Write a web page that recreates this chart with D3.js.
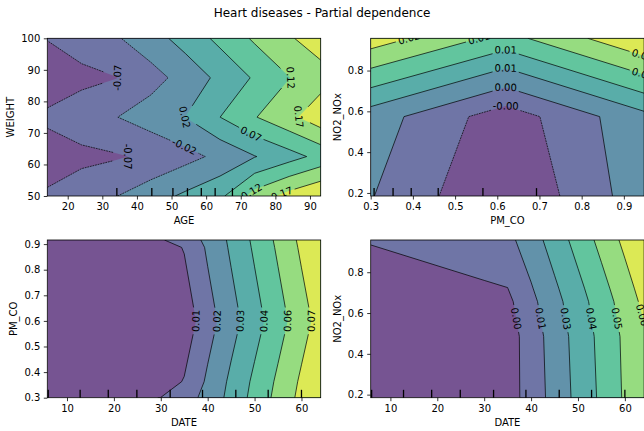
<!DOCTYPE html>
<html>
<head>
<meta charset="utf-8">
<script src="https://cdn.jsdelivr.net/npm/d3@7"></script>
<style>
  body { margin: 0; background: #fff; }
  text { font-family: "DejaVu Sans", sans-serif; fill: #000; }
</style>
</head>
<body>
<div id="chart"></div>
<script>
// ---- partial dependence grids ----
// AGE x WEIGHT
const ageGrid = [14.1, 24, 34, 44, 54, 64, 74, 84, 93.1];
const weightGrid = [50, 62.5, 75, 87.5, 100];
const pdAgeWeight = [
  [-0.067, -0.0465, -0.0257, 0.0027, 0.0315, 0.0598, 0.1376, 0.1827, 0.214],
  [-0.09, -0.0832, -0.0764, -0.0635, -0.040, -0.013, 0.021, 0.0524, 0.085],
  [-0.065, -0.0454, -0.0257, -0.0014, 0.0235, 0.0703, 0.1153, 0.1537, 0.195],
  [-0.095, -0.0842, -0.0732, -0.0426, -0.0064, 0.0343, 0.0758, 0.1168, 0.1456],
  [-0.0705, -0.050, -0.0293, 0.0034, 0.0414, 0.0824, 0.1248, 0.1605, 0.19]
];
const levelsAgeWeight = [-0.1195, -0.072, -0.0245, 0.023, 0.0705, 0.118, 0.1655, 0.213];
const decilesAge = [34.2, 44.3, 50.4, 54.6, 58.6, 62.6, 67.6];

// PM_CO x NO2_NOx
const pmcoGrid = [0.3, 0.62, 0.948];
const no2Grid = [0.185, 0.574, 0.958];
const pdPmcoNo2 = [
  [0.0022, -0.0051, 0.0041],
  [0.0038, -0.0035, 0.0046],
  [0.0179, 0.0112, 0.0193]
];
const levelsPmcoNo2 = [-0.005, -0.0015, 0.002, 0.0056, 0.009, 0.0125, 0.016, 0.0195];
const decilesPmco = [0.308, 0.353, 0.396, 0.46, 0.566, 0.693];

// DATE x PM_CO
const dateGrid = [5.8, 30, 35, 40, 45, 50, 55, 60, 64.1];
const pmcoRows = [0.3, 0.3625, 0.6, 0.887, 0.916];
const pdDatePmco = [
  [0.002, 0.0057, 0.0131, 0.0217, 0.0346, 0.0470, 0.0593, 0.0716, 0.0818],
  [0.0, 0.0, 0.0063, 0.0202, 0.0331, 0.0456, 0.0578, 0.0701, 0.080],
  [-0.002, -0.002, -0.0017, 0.0129, 0.0258, 0.0381, 0.0505, 0.0629, 0.073],
  [0.0, 0.0, 0.0063, 0.0199, 0.0324, 0.0449, 0.0574, 0.0701, 0.080],
  [0.002, 0.0044, 0.0120, 0.0206, 0.0331, 0.0456, 0.0582, 0.0709, 0.081]
];
const levelsDatePmco = [-0.0069, 0.0056, 0.0181, 0.0306, 0.0431, 0.0556, 0.0681, 0.0806];
const decilesDate = [6, 12.8, 18.8, 24.9, 32, 38.9, 46, 52.9, 60];

// DATE x NO2_NOx
const no2Rows = [0.185, 0.485, 0.656, 0.722, 0.958];
const pdDateNo2 = [
  [-0.005, -0.004, -0.0035, 0.0071, 0.0178, 0.0286, 0.0393, 0.0503, 0.0596],
  [-0.005, -0.004, -0.0037, 0.0077, 0.0189, 0.0297, 0.0404, 0.051, 0.0585],
  [-0.004, -0.001, -0.0007, 0.0107, 0.0216, 0.0322, 0.0430, 0.0539, 0.0633],
  [-0.0024, 0.00075, 0.0019, 0.0128, 0.0235, 0.0341, 0.0449, 0.0559, 0.0653],
  [0.0025, 0.0085, 0.0105, 0.0200, 0.0306, 0.0414, 0.0522, 0.0633, 0.0726]
];
const levelsDateNo2 = [-0.0097, 0.002, 0.0137, 0.0254, 0.0371, 0.0488, 0.0605, 0.0722];

// contour label spots: [level index, x, y]
const spotsAgeWeight = [[1, 35.1, 88], [1, 40.4, 62.5], [2, 53.9, 66.2], [3, 53.4, 75.4], [4, 73.1, 69.9],
  [5, 85, 87.4], [5, 73.1, 51.4], [6, 86.6, 75.3], [6, 81.8, 50.9]];
const spotsPmcoNo2 = [[1, 0.62, 0.626], [2, 0.62, 0.718], [3, 0.62, 0.812], [4, 0.62, 0.902],
  [5, 0.558, 0.95], [5, 0.946, 0.79], [6, 0.40, 0.95], [6, 0.946, 0.885]];
const spotsDatePmco = [[1, 37.5, 0.6], [2, 41.8, 0.6], [3, 47, 0.6], [4, 52, 0.6], [5, 57.1, 0.6], [6, 62.1, 0.6]];
const spotsDateNo2 = [[1, 37.3, 0.575], [2, 42.5, 0.575], [3, 48.1, 0.575], [4, 53.5, 0.575], [5, 58.8, 0.575], [6, 63.6, 0.59]];

// ---- layout ----
const W = 644, H = 431, pw = 273.4, ph = 157.7;

const panels = [
  {left: 47.3, top: 38.3, xs: ageGrid, ys: weightGrid, z: pdAgeWeight, levels: levelsAgeWeight,
   deciles: decilesAge, xTicks: d3.range(20, 91, 10), yTicks: d3.range(50, 101, 10),
   fx: d3.format("d"), fy: d3.format("d"), xLabel: "AGE", yLabel: "WEIGHT", spots: spotsAgeWeight},
  {left: 370.7, top: 38.3, xs: pmcoGrid, ys: no2Grid, z: pdPmcoNo2, levels: levelsPmcoNo2,
   deciles: decilesPmco, xTicks: [0.3, 0.4, 0.5, 0.6, 0.7, 0.8, 0.9], yTicks: [0.2, 0.4, 0.6, 0.8],
   fx: d3.format(".1f"), fy: d3.format(".1f"), xLabel: "PM_CO", yLabel: "NO2_NOx", spots: spotsPmcoNo2},
  {left: 47.3, top: 240, xs: dateGrid, ys: pmcoRows, z: pdDatePmco, levels: levelsDatePmco,
   deciles: decilesDate, xTicks: d3.range(10, 61, 10), yTicks: [0.3, 0.4, 0.5, 0.6, 0.7, 0.8, 0.9],
   fx: d3.format("d"), fy: d3.format(".1f"), xLabel: "DATE", yLabel: "PM_CO", spots: spotsDatePmco},
  {left: 370.7, top: 240, xs: dateGrid, ys: no2Rows, z: pdDateNo2, levels: levelsDateNo2,
   deciles: decilesDate, xTicks: d3.range(10, 61, 10), yTicks: [0.2, 0.4, 0.6, 0.8],
   fx: d3.format("d"), fy: d3.format(".1f"), xLabel: "DATE", yLabel: "NO2_NOx", spots: spotsDateNo2}
];

const svg = d3.select("#chart").append("svg")
    .attr("width", W)
    .attr("height", H);

svg.append("text")
    .attr("x", W / 2)
    .attr("y", 17)
    .attr("text-anchor", "middle")
    .style("font-size", "12px")
    .text("Heart diseases - Partial dependence");

// viridis at 0.75 alpha over white
const bandColors = d3.range(7).map(i => {
  const c = d3.rgb(d3.interpolateViridis((i + 0.5) / 7));
  return d3.rgb(c.r * 0.75 + 63.75, c.g * 0.75 + 63.75, c.b * 0.75 + 63.75).formatHex();
});

function lengths(pts) {
  const s = [0];
  for (let i = 1; i < pts.length; i++) s.push(s[i - 1] + Math.hypot(pts[i][0] - pts[i - 1][0], pts[i][1] - pts[i - 1][1]));
  return s;
}
function pointAt(pts, S, s) {
  s = Math.max(0, Math.min(S[S.length - 1], s));
  let i = 1;
  while (i < S.length - 1 && S[i] < s) i++;
  const seg = S[i] - S[i - 1] || 1;
  const t = (s - S[i - 1]) / seg;
  return [pts[i - 1][0] + t * (pts[i][0] - pts[i - 1][0]), pts[i - 1][1] + t * (pts[i][1] - pts[i - 1][1])];
}

panels.forEach((p, k) => {
  const g = svg.append("g").attr("transform", `translate(${p.left},${p.top})`);
  const nx = p.xs.length, ny = p.ys.length;

  const x = d3.scaleLinear().domain([p.xs[0], p.xs[nx - 1]]).range([0, pw]);
  const y = d3.scaleLinear().domain([p.ys[0], p.ys[ny - 1]]).range([ph, 0]);
  // grid index -> data value (piecewise)
  const gx = d3.scaleLinear().domain(d3.range(nx)).range(p.xs).clamp(true);
  const gy = d3.scaleLinear().domain(d3.range(ny)).range(p.ys).clamp(true);
  const toPx = q => [x(gx(q[0] - 0.5)), y(gy(q[1] - 0.5))];

  const clipId = "clip" + k;
  g.append("clipPath").attr("id", clipId)
    .append("rect").attr("width", pw).attr("height", ph);
  const body = g.append("g").attr("clip-path", `url(#${clipId})`);

  const values = p.z.flat();
  const contours = d3.contours().size([nx, ny]);

  // filled bands
  body.append("rect").attr("width", pw).attr("height", ph).attr("fill", bandColors[0]);
  const lines = [];
  p.levels.slice(1, 7).forEach((lv, i) => {
    const c = contours.contour(values, lv);
    const d = c.coordinates.map(poly => poly.map(ring =>
      "M" + ring.map(toPx).map(q => q[0].toFixed(2) + "," + q[1].toFixed(2)).join("L") + "Z").join("")).join("");
    body.append("path")
        .attr("d", d)
        .attr("fill", bandColors[i + 1])
        .attr("fill-rule", "evenodd");

    // isolines: runs of ring points that are not on the padded border
    c.coordinates.forEach(poly => poly.forEach(ring => {
      const pts = ring.slice(0, -1);
      const iso = pts.map(q => q[0] > 0 && q[0] < nx && q[1] > 0 && q[1] < ny);
      const start = iso.indexOf(false);
      if (start < 0) {
        const r = pts.map(toPx); r.push(r[0]);
        lines.push({li: i + 1, level: lv, pts: r, cuts: []});
        return;
      }
      let run = [];
      for (let j = 1; j <= pts.length; j++) {
        const idx = (start + j) % pts.length;
        if (iso[idx]) run.push(toPx(pts[idx]));
        else {
          if (run.length > 1) lines.push({li: i + 1, level: lv, pts: run, cuts: []});
          run = [];
        }
      }
    }));
  });
  lines.forEach(l => l.S = lengths(l.pts));

  // inline labels
  const labG = body.append("g").attr("class", "clabels");
  p.spots.forEach(([li, ax, ay]) => {
    const P = [x(ax), y(ay)];
    let best = null;
    lines.filter(l => l.li === li).forEach(l => {
      for (let i = 0; i < l.pts.length - 1; i++) {
        const a = l.pts[i], b = l.pts[i + 1];
        const dx = b[0] - a[0], dy = b[1] - a[1], L2 = dx * dx + dy * dy;
        if (L2 === 0) continue;
        const t = Math.max(0, Math.min(1, ((P[0] - a[0]) * dx + (P[1] - a[1]) * dy) / L2));
        const dist = Math.hypot(a[0] + t * dx - P[0], a[1] + t * dy - P[1]);
        if (!best || dist < best.dist) best = {dist, line: l, s: l.S[i] + t * Math.sqrt(L2)};
      }
    });
    if (!best) return;
    const l = best.line;
    const txt = labG.append("text")
        .attr("text-anchor", "middle")
        .attr("dominant-baseline", "central")
        .style("font-size", "10px")
        .text(p.levels[li].toFixed(2));
    const w = txt.node().getComputedTextLength();
    const pa = pointAt(l.pts, l.S, best.s - w / 2), pb = pointAt(l.pts, l.S, best.s + w / 2);
    let ang = Math.atan2(pb[1] - pa[1], pb[0] - pa[0]) * 180 / Math.PI;
    if (ang > 90) ang -= 180;
    if (ang <= -90) ang += 180;
    const c = pointAt(l.pts, l.S, best.s);
    txt.attr("transform", `translate(${c[0]},${c[1]}) rotate(${ang})`);
    l.cuts.push([best.s - w / 2 - 2.5, best.s + w / 2 + 2.5]);
  });

  // contour lines with gaps for labels
  const lineG = body.insert("g", ".clabels");
  lines.forEach(l => {
    const total = l.S[l.S.length - 1];
    const cuts = l.cuts.sort((a, b) => a[0] - b[0]);
    const keep = [];
    let from = 0;
    cuts.forEach(([a, b]) => { if (a > from) keep.push([from, a]); from = Math.max(from, b); });
    if (from < total) keep.push([from, total]);
    keep.forEach(([a, b]) => {
      const seg = [pointAt(l.pts, l.S, a)];
      l.S.forEach((s, i) => { if (s > a && s < b) seg.push(l.pts[i]); });
      seg.push(pointAt(l.pts, l.S, b));
      lineG.append("path")
          .attr("d", d3.line()(seg))
          .attr("fill", "none")
          .attr("stroke", "#000")
          .attr("stroke-width", 0.7)
          .attr("stroke-dasharray", l.level < 0 ? "1.85,0.8" : null);
    });
  });

  // decile rug
  g.selectAll(".decile")
    .data(p.deciles)
    .join("line")
      .attr("class", "decile")
      .attr("x1", d => x(d)).attr("x2", d => x(d))
      .attr("y1", ph).attr("y2", ph - 0.05 * ph)
      .attr("stroke", "#000")
      .attr("stroke-width", 1.3);

  // axes
  const xAxisG = g.append("g")
      .attr("transform", `translate(0,${ph})`)
      .call(d3.axisBottom(x).tickValues(p.xTicks).tickFormat(p.fx).tickSize(3.5).tickPadding(3.5));
  const yAxisG = g.append("g")
      .call(d3.axisLeft(y).tickValues(p.yTicks).tickFormat(p.fy).tickSize(3.5).tickPadding(3.5));
  [xAxisG, yAxisG].forEach(a => {
    a.select(".domain").remove();
    a.attr("font-family", null).attr("font-size", null);
    a.selectAll("line").attr("stroke", "#000").attr("stroke-width", 0.8);
    a.selectAll("text").style("font-size", "10px").attr("fill", "#000");
  });

  g.append("rect")
      .attr("width", pw).attr("height", ph)
      .attr("fill", "none")
      .attr("stroke", "#000")
      .attr("stroke-width", 0.8);

  let maxW = 0;
  yAxisG.selectAll("text").each(function () { maxW = Math.max(maxW, this.getComputedTextLength()); });

  g.append("text")
      .attr("x", pw / 2)
      .attr("y", ph + 25)
      .attr("text-anchor", "middle")
      .attr("dominant-baseline", "central")
      .style("font-size", "10px")
      .text(p.xLabel);

  g.append("text")
      .attr("transform", `translate(${-7 - maxW - 10.5},${ph / 2}) rotate(-90)`)
      .attr("text-anchor", "middle")
      .attr("dominant-baseline", "central")
      .style("font-size", "10px")
      .text(p.yLabel);
});
</script>
</body>
</html>
